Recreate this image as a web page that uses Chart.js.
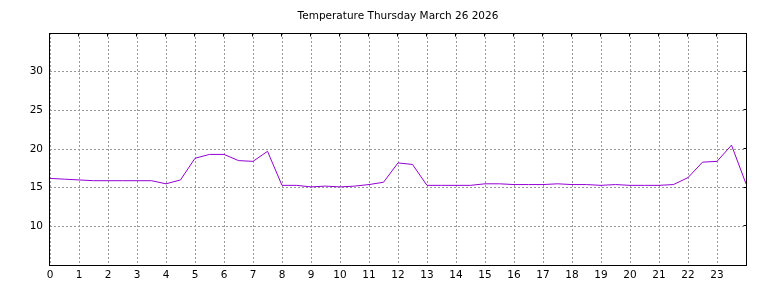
<!DOCTYPE html>
<html lang="en">
<head>
    <meta charset="UTF-8">
    <title>Temperature</title>
    <script src="https://cdn.jsdelivr.net/npm/chart.js"></script>
    <style>
        body { margin: 0; background: #ffffff; }
    </style>
</head>
<body>
    <canvas id="tempChart" width="768" height="288"></canvas>
    <script>
        // half-hourly readings, 0:00 .. 24:00
        const hours = [0, 0.5, 1, 1.5, 2, 2.5, 3, 3.5, 4, 4.5, 5, 5.5, 6, 6.5, 7, 7.5,
            8, 8.5, 9, 9.5, 10, 10.5, 11, 11.5, 12, 12.5, 13, 13.5, 14, 14.5, 15, 15.5,
            16, 16.5, 17, 17.5, 18, 18.5, 19, 19.5, 20, 20.5, 21, 21.5, 22, 22.5, 23, 23.5, 24];
        const temps = [16.2, 16.1, 16.0, 15.9, 15.9, 15.9, 15.9, 15.9, 15.5, 16.0, 18.8, 19.3, 19.3, 18.5, 18.4, 19.7,
            15.3, 15.3, 15.1, 15.2, 15.1, 15.2, 15.4, 15.7, 18.2, 18.0, 15.3, 15.3, 15.3, 15.3, 15.5, 15.5,
            15.4, 15.4, 15.4, 15.5, 15.4, 15.4, 15.3, 15.4, 15.3, 15.3, 15.3, 15.4, 16.3, 18.3, 18.4, 20.5, 15.5];
        const yTicks = [10, 15, 20, 25, 30];
        const title = 'Temperature Thursday March 26 2026';

        Chart.defaults.font.family = "'DejaVu Sans', sans-serif";
        Chart.defaults.font.size = 10.5;
        Chart.defaults.color = '#000000';

        // black frame with small inward ticks, like the original plot
        const framePlugin = {
            id: 'frame',
            afterDraw(chart) {
                const ctx = chart.ctx;
                const a = chart.chartArea;
                const l = Math.round(a.left) - 0.5, r = Math.round(a.right) + 0.5;
                const t = Math.round(a.top) + 0.5, b = Math.round(a.bottom) + 0.5;
                ctx.save();
                ctx.strokeStyle = '#000000';
                ctx.lineWidth = 1;
                ctx.strokeRect(l, t, r - l, b - t);
                ctx.beginPath();
                for (let h = 1; h < 24; h++) {
                    const x = Math.round(chart.scales.x.getPixelForValue(h)) - 0.5;
                    ctx.moveTo(x, t);
                    ctx.lineTo(x, t + 3);
                }
                yTicks.forEach(v => {
                    const y = Math.round(chart.scales.y.getPixelForValue(v)) - 0.5;
                    ctx.moveTo(r, y);
                    ctx.lineTo(r - 3, y);
                });
                ctx.stroke();
                ctx.restore();
            }
        };

        new Chart(document.getElementById('tempChart'), {
            type: 'line',
            data: {
                datasets: [{
                    data: hours.map((h, i) => ({ x: h, y: temps[i] })),
                    borderColor: '#9400d3',
                    borderWidth: 1,
                    pointRadius: 0,
                    tension: 0,
                    fill: false
                }]
            },
            options: {
                responsive: false,
                animation: false,
                layout: { padding: { left: 0, right: 22, top: 0, bottom: 0 } },
                plugins: {
                    legend: { display: false },
                    tooltip: { enabled: false },
                    title: {
                        display: true,
                        text: title,
                        fullSize: false,
                        font: { size: 10.5, weight: 'normal' },
                        color: '#000000',
                        padding: { top: 10, bottom: 10.4 }
                    }
                },
                scales: {
                    x: {
                        type: 'linear',
                        min: 0,
                        max: 24,
                        afterFit(scale) { scale.height = 23; },
                        ticks: {
                            stepSize: 1,
                            autoSkip: false,
                            maxRotation: 0,
                            padding: 4,
                            callback: v => (v < 24 ? v : '')
                        },
                        grid: { color: '#999999', drawTicks: false, lineWidth: 1 },
                        border: { display: false, dash: [2, 2] }
                    },
                    y: {
                        min: 5,
                        max: 35,
                        afterFit(scale) { scale.width = 50; },
                        ticks: {
                            stepSize: 5,
                            padding: 7,
                            callback: v => (yTicks.includes(v) ? v : '')
                        },
                        grid: { color: '#999999', drawTicks: false, lineWidth: 1 },
                        border: { display: false, dash: [2, 2] }
                    }
                }
            },
            plugins: [framePlugin]
        });
    </script>
</body>
</html>
